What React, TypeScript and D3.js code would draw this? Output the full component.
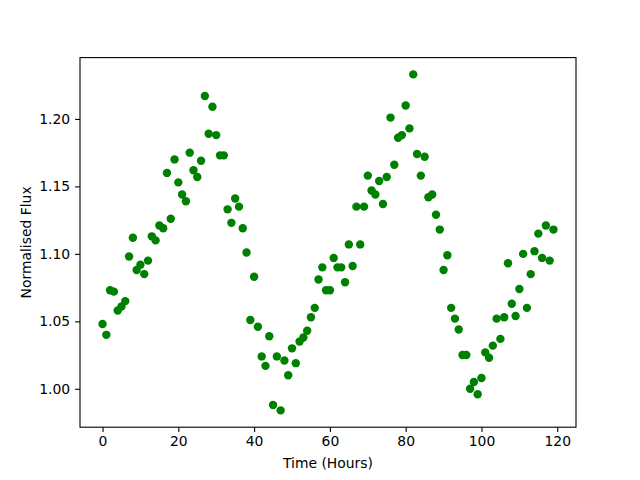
import React, { useRef, useEffect } from "react";
import * as d3 from "d3";

// hours since start of observation
const hours: number[] = d3.range(0, 120);

// normalised flux, one reading per hour
const flux: number[] = [
  1.048, 1.040, 1.073, 1.072, 1.058, 1.061, 1.065, 1.098, 1.112, 1.088,
  1.092, 1.085, 1.095, 1.113, 1.110, 1.121, 1.119, 1.160, 1.126, 1.170,
  1.153, 1.144, 1.139, 1.175, 1.162, 1.157, 1.169, 1.217, 1.189, 1.209,
  1.188, 1.173, 1.173, 1.133, 1.123, 1.141, 1.135, 1.119, 1.101, 1.051,
  1.083, 1.046, 1.024, 1.017, 1.039, 0.988, 1.024, 0.984, 1.021, 1.010,
  1.030, 1.019, 1.035, 1.038, 1.043, 1.053, 1.060, 1.081, 1.090, 1.073,
  1.073, 1.097, 1.090, 1.090, 1.079, 1.107, 1.091, 1.135, 1.107, 1.135,
  1.158, 1.147, 1.144, 1.154, 1.137, 1.157, 1.201, 1.166, 1.186, 1.188,
  1.210, 1.193, 1.233, 1.174, 1.158, 1.172, 1.142, 1.144, 1.129, 1.118,
  1.088, 1.099, 1.060, 1.052, 1.044, 1.025, 1.025, 1.000, 1.005, 0.996,
  1.008, 1.027, 1.023, 1.032, 1.052, 1.037, 1.053, 1.093, 1.063, 1.054,
  1.074, 1.100, 1.060, 1.085, 1.102, 1.115, 1.097, 1.121, 1.095, 1.118,
];

const xTicks: number[] = [0, 20, 40, 60, 80, 100, 120];
const yTicks: number[] = [1.0, 1.05, 1.1, 1.15, 1.2];

const App = () => {
  const svgRef = useRef<SVGSVGElement>(null);

  useEffect(() => {
    const svg = d3.select(svgRef.current);
    svg.selectAll("*").remove();

    const margin = { top: 57.6, right: 64, bottom: 52.8, left: 80 },
      width = 640 - margin.left - margin.right,
      height = 480 - margin.top - margin.bottom;
    const font = "DejaVu Sans, sans-serif";

    // matplotlib style 5% padding around the data
    const [x0, x1] = d3.extent(hours) as [number, number];
    const [y0, y1] = d3.extent(flux) as [number, number];
    const px = (x1 - x0) * 0.05,
      py = (y1 - y0) * 0.05;
    const x = d3.scaleLinear().domain([x0 - px, x1 + px]).range([0, width]);
    const y = d3.scaleLinear().domain([y0 - py, y1 + py]).range([height, 0]);

    const g = svg
      .append("g")
      .attr("transform", `translate(${margin.left}, ${margin.top})`);

    // points
    g.append("g")
      .selectAll("circle")
      .data(hours)
      .join("circle")
      .attr("cx", (d) => x(d))
      .attr("cy", (d, i) => y(flux[i]))
      .attr("r", 4.2)
      .attr("fill", "#008000");

    // frame
    g.append("rect")
      .attr("width", width)
      .attr("height", height)
      .attr("fill", "none")
      .attr("stroke", "black")
      .attr("stroke-width", 1.1);

    const xAxis = g
      .append("g")
      .attr("transform", `translate(0, ${height})`)
      .call(d3.axisBottom(x).tickValues(xTicks).tickSize(4.9).tickPadding(4).tickFormat(d3.format("d")));
    xAxis.select(".domain").remove();

    const yAxis = g
      .append("g")
      .call(d3.axisLeft(y).tickValues(yTicks).tickSize(4.9).tickPadding(4.9).tickFormat(d3.format(".2f")));
    yAxis.select(".domain").remove();

    svg
      .selectAll(".tick line")
      .attr("stroke", "black")
      .attr("stroke-width", 1.1);
    svg
      .selectAll(".tick text")
      .attr("fill", "black")
      .style("font-family", font)
      .style("font-size", "13.9px");

    // axis labels
    svg
      .append("text")
      .attr("x", margin.left + width / 2)
      .attr("y", 468)
      .attr("text-anchor", "middle")
      .style("font-family", font)
      .style("font-size", "13.9px")
      .text("Time (Hours)");

    svg
      .append("text")
      .attr("transform", `translate(31, ${margin.top + height / 2}) rotate(-90)`)
      .attr("text-anchor", "middle")
      .style("font-family", font)
      .style("font-size", "13.9px")
      .text("Normalised Flux");
  }, []);

  return (
    <svg
      ref={svgRef}
      width={640}
      height={480}
      style={{ position: "absolute", left: 0, top: 0, background: "white" }}
    ></svg>
  );
};

export default App;
